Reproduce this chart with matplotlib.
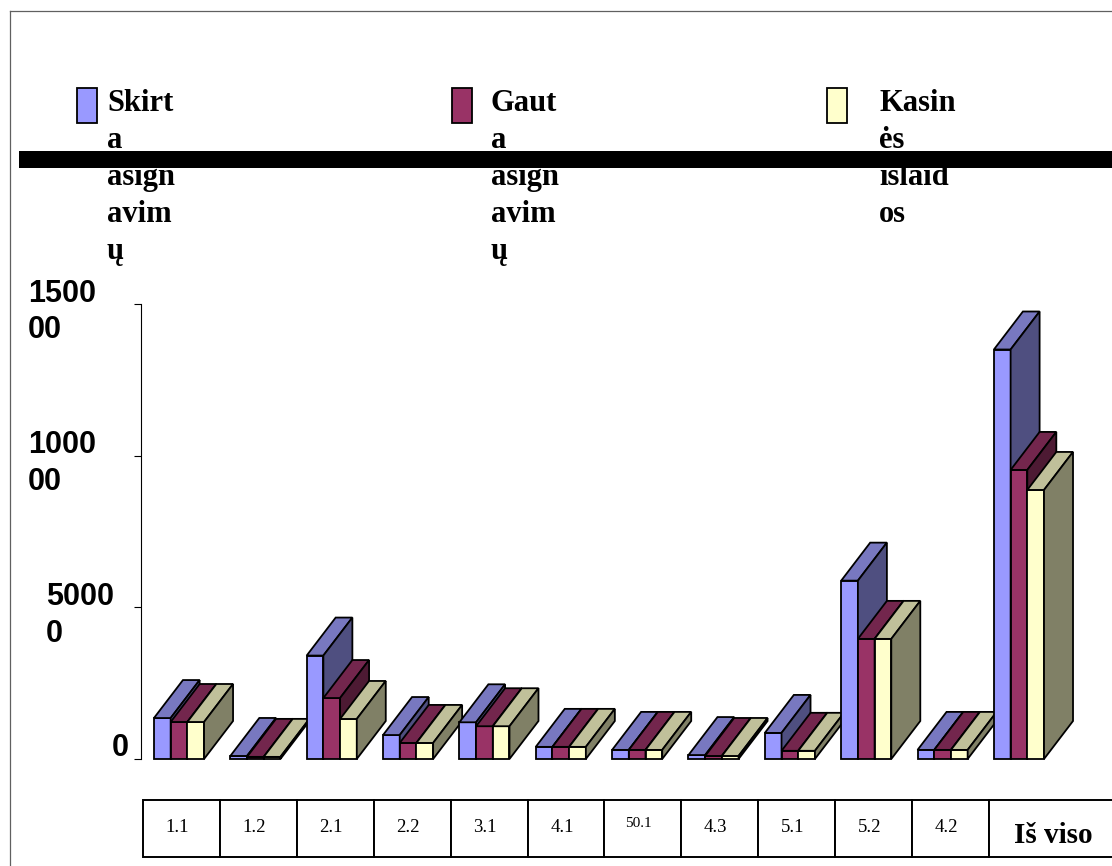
import matplotlib
matplotlib.use('Agg')
import matplotlib.pyplot as plt
from matplotlib.patches import Polygon, Rectangle
from matplotlib.transforms import blended_transform_factory, offset_copy

# ---------------- data ----------------
categories = ['1.1', '1.2', '2.1', '2.2', '3.1', '4.1', '50.1', '4.3', '5.1', '5.2', '4.2', 'Iš viso']
skirta = [13500, 1000, 34100, 7900, 12100, 4000, 3000, 1300, 8600, 58800, 3000, 135000]
gauta = [12200, 700, 20100, 5300, 10800, 4000, 3000, 1000, 2700, 39600, 3000, 95300]
kasines = [12200, 700, 13200, 5300, 10800, 4000, 3000, 1000, 2700, 39600, 3000, 88700]
series_labels = ['Skirt\na\nasign\navim\nų', 'Gaut\na\nasign\navim\nų', 'Kasin\nės\nišlaid\nos']
y_ticks = [0, 50000, 100000, 150000]
y_tick_labels = ['0', '5000\n0', '1000\n00', '1500\n00']

# ---------------- style ----------------
front_colors = ['#9999FF', '#993366', '#FFFFCC']
top_colors = ['#7878C0', '#73264D', '#C0C09A']
side_colors = ['#4F4F80', '#4D1A33', '#808066']

W, H = 1112, 866
fig = plt.figure(figsize=(W / 100, H / 100), dpi=100)


def fx(px):
    return px / W


def fy(py):
    return 1 - py / H


ax_left, ax_right = 141, 1112
y0_px, ytop_px = 759, 304
ax = fig.add_axes([fx(ax_left), fy(y0_px), fx(ax_right - ax_left), (y0_px - ytop_px) / H])
pitch = 76.36
first_center = 179
ax.set_xlim((ax_left - first_center) / pitch, (ax_right - first_center) / pitch)
ax.set_ylim(0, 150000)
ax.patch.set_alpha(0)

for sp in ['top', 'right', 'bottom']:
    ax.spines[sp].set_visible(False)
ax.spines['left'].set_bounds(0, 150000)
ax.spines['left'].set_linewidth(0.8)
ax.set_xticks([])
ax.set_yticks(y_ticks)
ax.tick_params(axis='y', direction='out', length=5, width=0.8, labelleft=False)

# bar geometry in data units
w = 16.7 / pitch
dx = 29 / pitch
dy = 38 * 150000 / (y0_px - ytop_px)

series = [skirta, gauta, kasines]
for i in range(len(categories)):
    for s, vals in enumerate(series):
        h = vals[i]
        x0 = i + (s - 1.5) * w
        x1 = x0 + w
        kw = dict(edgecolor='black', linewidth=1.3, joinstyle='miter', clip_on=False)
        ax.add_patch(Rectangle((x0, 0), w, h, facecolor=front_colors[s], **kw))
        ax.add_patch(Polygon([(x0, h), (x1, h), (x1 + dx, h + dy), (x0 + dx, h + dy)],
                             closed=True, facecolor=top_colors[s], **kw))
        ax.add_patch(Polygon([(x1, 0), (x1, h), (x1 + dx, h + dy), (x1 + dx, dy)],
                             closed=True, facecolor=side_colors[s], **kw))

# y tick labels (multi-line, Excel style)
label_x_px = [112, 46, 28, 28]
bt = blended_transform_factory(fig.transFigure, ax.transData)
for val, lab, lx in zip(y_ticks, y_tick_labels, label_x_px):
    for k, line in enumerate(lab.split('\n')):
        tr = offset_copy(bt, fig=fig, x=0, y=2.5 - 37 * k, units='dots')
        fig.text(fx(lx), val, line, transform=tr, ha='left', va='baseline',
                 fontsize=22, fontweight='bold', family='Liberation Sans')

# chart area border (left + top)
fig.add_artist(plt.Line2D([fx(10), fx(10)], [fy(11), fy(866)], color='#606060', lw=0.9,
                          transform=fig.transFigure))
fig.add_artist(plt.Line2D([fx(10), fx(1112)], [fy(11), fy(11)], color='#606060', lw=0.9,
                          transform=fig.transFigure))

# legend
marker_x = [77, 452, 827]
text_x = [107, 491, 879]
for s in range(3):
    fig.add_artist(Rectangle((fx(marker_x[s]), fy(123)), fx(20), 35 / H, transform=fig.transFigure,
                             facecolor=front_colors[s], edgecolor='black', linewidth=1.3))
    for k, line in enumerate(series_labels[s].split('\n')):
        fig.text(fx(text_x[s]), fy(111 + 37 * k), line, ha='left', va='baseline',
                 fontsize=22, fontweight='bold', family='Liberation Serif')

# black bar over legend
fig.add_artist(Rectangle((fx(19), fy(168)), fx(1112 - 19), 17 / H, transform=fig.transFigure,
                         facecolor='black', edgecolor='none', zorder=10))

# data table with category labels
tab_left, tab_pitch = 143, 76.9
tab_top, tab_bot = 800, 857
for i, cat in enumerate(categories):
    xl = tab_left + tab_pitch * i
    wd = tab_pitch if i < len(categories) - 1 else 200
    fig.add_artist(Rectangle((fx(xl), fy(tab_bot)), fx(wd), (tab_bot - tab_top) / H,
                             transform=fig.transFigure, facecolor='white', edgecolor='black',
                             linewidth=1.4))
    if i == len(categories) - 1:
        fig.text(fx(1053), fy(843), cat, ha='center', va='baseline', fontsize=21,
                 fontweight='bold', family='Liberation Serif')
    elif cat == '50.1':
        fig.text(fx(xl + tab_pitch / 2 - 4), fy(827), cat, ha='center', va='baseline',
                 fontsize=11, family='Liberation Serif')
    else:
        fig.text(fx(xl + tab_pitch / 2 - 4), fy(832), cat, ha='center', va='baseline',
                 fontsize=13.5, family='Liberation Serif')

fig.savefig('out.png', dpi=100)
